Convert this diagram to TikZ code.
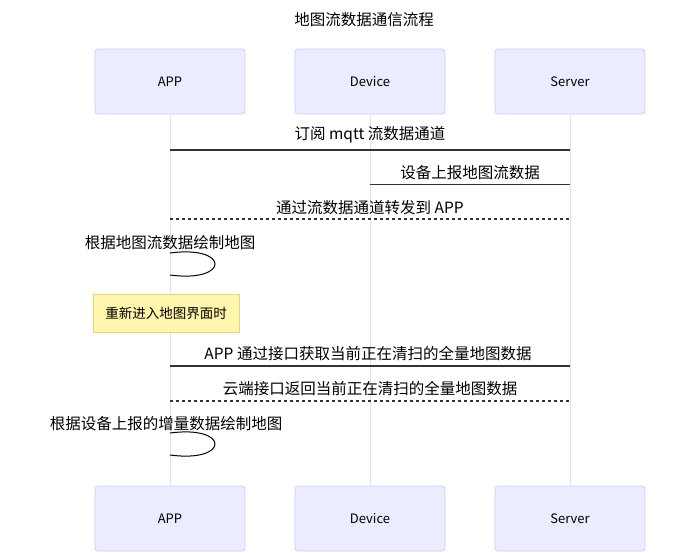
\documentclass[tikz,border=0pt]{standalone}
\usepackage{fontspec}
\setmainfont{Noto Sans CJK SC}
\begin{document}
\begin{tikzpicture}[x=1pt,y=-1pt,
  actor/.style={draw=actorborder,fill=actorfill,rounded corners=3pt,line width=0.8pt,minimum width=150pt,minimum height=65pt,font=\fontsize{13}{15}\selectfont,inner sep=0pt},
  life/.style={draw=lifegray,line width=1pt},
  msg/.style={draw=msgcol,line width=1.5pt},
  dmsg/.style={draw=msgcol,line width=1.5pt,dash pattern=on 3pt off 3pt},
  mtext/.style={font=\fontsize{15.5}{18}\selectfont,inner sep=0pt,text=black},
  notebox/.style={draw=noteborder,fill=notefill,line width=1pt,minimum width=146pt,minimum height=38pt,font=\fontsize{13.5}{16}\selectfont,inner sep=0pt}
]
\definecolor{actorfill}{HTML}{ECECFF}
\definecolor{actorborder}{HTML}{CCCCFF}
\definecolor{lifegray}{HTML}{E3E3E3}
\definecolor{msgcol}{HTML}{333333}
\definecolor{notefill}{HTML}{FFF5AD}
\definecolor{noteborder}{HTML}{DDDD77}
\useasboundingbox (0,0) rectangle (695,552);
\fill[white] (0,0) rectangle (695,552);

\node[font=\fontsize{15.5}{18}\selectfont] (title) at (364,20) {地图流数据通信流程};

% lifelines
\coordinate (a1) at (170,114); \coordinate (a2) at (170,486);
\coordinate (d1) at (370,114); \coordinate (d2) at (370,486);
\coordinate (s1) at (570,114); \coordinate (s2) at (570,486);
\draw[life] (a1) -- (a2);
\draw[life] (d1) -- (d2);
\draw[life] (s1) -- (s2);

% actors
\node[actor] (appT) at (170,81.5) {APP};
\node[actor] (devT) at (370,81.5) {Device};
\node[actor] (srvT) at (570,81.5) {Server};
\node[actor] (appB) at (170,518.5) {APP};
\node[actor] (devB) at (370,518.5) {Device};
\node[actor] (srvB) at (570,518.5) {Server};

% message 1
\coordinate (m1a) at (170,150); \coordinate (m1b) at (570,150);
\draw[msg] (m1a) -- (m1b);
\node[mtext] (t1) at (370,134.5) {订阅 mqtt 流数据通道};

% message 2
\coordinate (m2a) at (370,184.5); \coordinate (m2b) at (570,184.5);
\draw[msg] (m2a) -- (m2b);
\node[mtext] (t2) at (470,173) {设备上报地图流数据};

% message 3
\coordinate (m3a) at (170,219); \coordinate (m3b) at (570,219);
\draw[dmsg] (m3a) -- (m3b);
\node[mtext] (t3) at (370,208) {通过流数据通道转发到 APP};

% self loop 1
\node[mtext] (t4) at (170,243) {根据地图流数据绘制地图};
\coordinate (l1a) at (170,253); \coordinate (l1b) at (170,275);
\draw[draw=black,line width=1pt] (l1a) .. controls (230,245) and (230,283) .. (l1b);

% note
\node[notebox] (note) at (166,313) {重新进入地图界面时};

% message 5
\coordinate (m5a) at (170,366); \coordinate (m5b) at (570,366);
\draw[msg] (m5a) -- (m5b);
\node[mtext] (t5) at (368,354) {APP 通过接口获取当前正在清扫的全量地图数据};

% message 6
\coordinate (m6a) at (170,401); \coordinate (m6b) at (570,401);
\draw[dmsg] (m6a) -- (m6b);
\node[mtext] (t6) at (370,389) {云端接口返回当前正在清扫的全量地图数据};

% self loop 2
\node[mtext] (t7) at (166,424) {根据设备上报的增量数据绘制地图};
\coordinate (l2a) at (170,433); \coordinate (l2b) at (170,455);
\draw[draw=black,line width=1pt] (l2a) .. controls (230,425) and (230,463) .. (l2b);
\end{tikzpicture}
\end{document}
